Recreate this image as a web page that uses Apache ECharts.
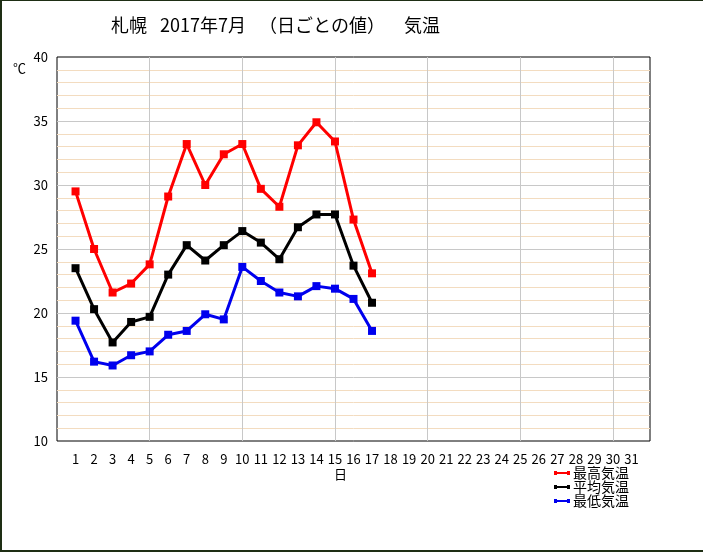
<!DOCTYPE html>
<html>
<head>
<meta charset="utf-8">
<script src="https://cdn.jsdelivr.net/npm/echarts@6/dist/echarts.min.js"></script>
<style>
html, body { margin:0; padding:0; background:#fff; }
#frame { position:absolute; left:0; top:0; width:701px; height:549px;
	border-left:2px solid #1e2e14; border-top:1px solid #1e2e14; border-bottom:2px solid #1e2e14; }
#chart { width:703px; height:552px; }
</style>
</head>
<body>
<div id="frame"></div>
<div id="chart"></div>
<script>
// 札幌 2017年7月 日ごとの値
var days = [1,2,3,4,5,6,7,8,9,10,11,12,13,14,15,16,17] ;
var maxTemp = [29.5,25.0,21.6,22.3,23.8,29.1,33.2,30.0,32.4,33.2,29.7,28.3,33.1,34.9,33.4,27.3,23.1] ;
var avgTemp = [23.5,20.3,17.7,19.3,19.7,23.0,25.3,24.1,25.3,26.4,25.5,24.2,26.7,27.7,27.7,23.7,20.8] ;
var minTemp = [19.4,16.2,15.9,16.7,17.0,18.3,18.6,19.9,19.5,23.6,22.5,21.6,21.3,22.1,21.9,21.1,18.6] ;
var seriesNames = ['最高気温','平均気温','最低気温'] ;
var seriesColors = ['#ff0000','#000000','#0000ee'] ;
var titleParts = ['札幌','2017年7月','（日ごとの値）','気温'] ;

var FONT = '"Liberation Sans Narrow","Noto Sans CJK JP",sans-serif' ;
var JPFONT = '"Noto Sans CJK JP",sans-serif' ;

function toPairs(values)
{
	var out = [] ;
	for( var i = 0 ; i < days.length ; i++ )
	{
		out.push( [ days[i], values[i] ] ) ;
	}
	return out ;
}

function makeSeries(idx, values)
{
	return {
		name: seriesNames[idx],
		type: 'line',
		data: toPairs(values),
		symbol: 'rect',
		symbolSize: 8,
		showAllSymbol: true,
		lineStyle: { color: seriesColors[idx], width: 3 },
		itemStyle: { color: seriesColors[idx] },
		z: 10 + idx
	} ;
}

// title pieces, spaced like the original
var titleX = [111, 160, 259, 404] ;
var graphics = [] ;
for( var t = 0 ; t < titleParts.length ; t++ )
{
	graphics.push( { type: 'text', left: titleX[t], top: 16,
		style: { text: titleParts[t], font: '18px ' + JPFONT, fill: '#000' } } ) ;
}
graphics.push( { type: 'text', left: 13, top: 62, style: { text: '℃', font: '13px ' + JPFONT, fill: '#000' } } ) ;
graphics.push( { type: 'text', left: 334, top: 468, style: { text: '日', font: '13px ' + JPFONT, fill: '#000' } } ) ;

var legendIcon = 'path://M0,2H16V4H0Z M0,1H3V5H0Z M13,1H16V5H13Z' ;

var option = {
	backgroundColor: 'transparent',
	animation: false,
	legend: {
		orient: 'vertical',
		left: 549,
		top: 461,
		itemWidth: 16,
		itemHeight: 6,
		itemGap: 0,
		icon: legendIcon,
		data: seriesNames,
		textStyle: { fontFamily: JPFONT, fontSize: 14, color: '#000', padding: [0,0,0,-2] }
	},
	graphic: graphics,
	grid: {
		left: 57, top: 57, width: 593, height: 384,
		show: true, borderColor: '#000', borderWidth: 1, backgroundColor: '#fff'
	},
	xAxis: [
		{
			type: 'value', min: 0, max: 32, interval: 1,
			axisLine: { show: false },
			axisTick: { show: false },
			splitLine: { show: false },
			axisLabel: {
				margin: 12, fontFamily: FONT, fontSize: 13, color: '#000',
				formatter: function (v) { return (v >= 1 && v <= 31) ? String(v) : '' ; }
			}
		},
		{
			type: 'value', min: 0, max: 32, interval: 5, position: 'bottom',
			axisLine: { show: false }, axisTick: { show: false }, axisLabel: { show: false },
			splitLine: { show: true, showMinLine: false, showMaxLine: false, lineStyle: { color: '#c8c8c8', width: 1 } }
		}
	],
	yAxis: {
		type: 'value', min: 10, max: 40, interval: 5,
		axisLine: { show: false },
		axisTick: { show: false },
		axisLabel: { margin: 9, fontFamily: FONT, fontSize: 13, color: '#000' },
		splitLine: { show: true, showMinLine: false, showMaxLine: false, lineStyle: { color: '#c8c8c8', width: 1 } },
		minorTick: { show: false, splitNumber: 5 },
		minorSplitLine: { show: true, lineStyle: { color: '#f3dcc0', width: 1 } }
	},
	series: [
		makeSeries(0, maxTemp),
		makeSeries(1, avgTemp),
		makeSeries(2, minTemp)
	]
} ;

var myChart = echarts.init( document.getElementById('chart') ) ;
myChart.setOption( option ) ;
</script>
</body>
</html>
